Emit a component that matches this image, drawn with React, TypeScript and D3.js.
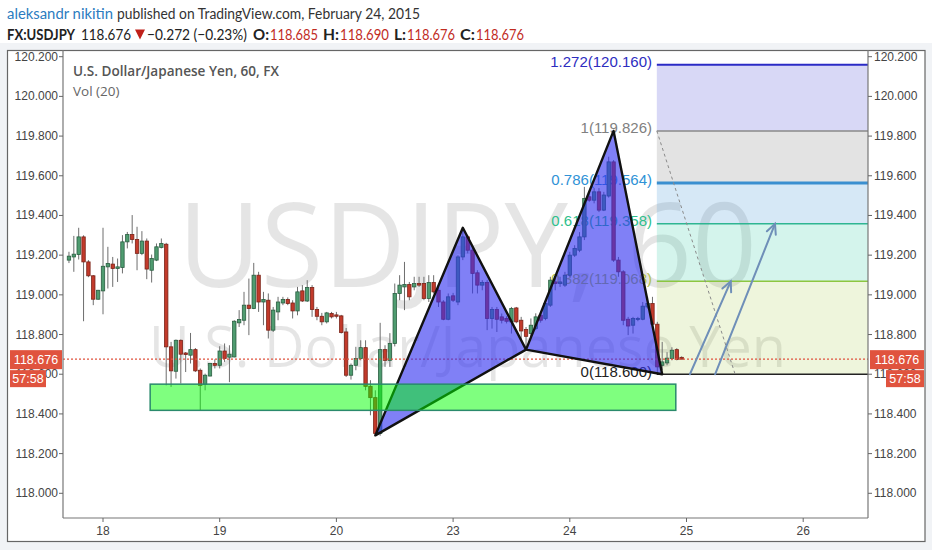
import React from 'react';
import * as d3 from 'd3';

const W = 932;
const H = 550;
const plot = { left: 63, right: 868, top: 50, bottom: 518 };

// x axis: hourly candle index, day labels
const dayTickIdx = [8, 32, 56, 80, 104, 128, 152];
const dayLabels = ['18', '19', '20', '23', '24', '25', '26'];
const priceTicks = [118.0, 118.2, 118.4, 118.6, 118.8, 119.0, 119.2, 119.4, 119.6, 119.8, 120.0, 120.2];

// hourly OHLC candles (index 1..127)
const candles: [number, number, number, number][] = [
  [119.175, 119.217, 119.160, 119.195],
  [119.191, 119.297, 119.116, 119.205],
  [119.203, 119.338, 119.178, 119.292],
  [119.292, 119.300, 118.867, 119.166],
  [119.166, 119.175, 119.089, 119.096],
  [119.096, 119.100, 118.948, 118.978],
  [118.978, 119.025, 118.975, 119.023],
  [119.020, 119.338, 118.902, 119.144],
  [119.141, 119.242, 119.032, 119.158],
  [119.155, 119.191, 119.040, 119.133],
  [119.133, 119.183, 119.065, 119.141],
  [119.138, 119.301, 119.108, 119.267],
  [119.267, 119.317, 119.234, 119.304],
  [119.304, 119.402, 119.259, 119.279],
  [119.279, 119.343, 119.124, 119.209],
  [119.209, 119.321, 119.200, 119.271],
  [119.271, 119.284, 119.079, 119.130],
  [119.124, 119.203, 119.062, 119.183],
  [119.175, 119.259, 119.170, 119.242],
  [119.239, 119.284, 119.234, 119.259],
  [119.255, 119.262, 118.544, 118.738],
  [118.738, 118.763, 118.536, 118.617],
  [118.615, 118.775, 118.578, 118.771],
  [118.771, 118.775, 118.553, 118.701],
  [118.707, 118.712, 118.611, 118.699],
  [118.696, 118.808, 118.654, 118.724],
  [118.724, 118.732, 118.611, 118.617],
  [118.620, 118.629, 118.418, 118.544],
  [118.549, 118.603, 118.519, 118.595],
  [118.591, 118.656, 118.589, 118.654],
  [118.654, 118.675, 118.629, 118.645],
  [118.645, 118.741, 118.629, 118.717],
  [118.717, 118.755, 118.662, 118.679],
  [118.686, 118.746, 118.560, 118.701],
  [118.687, 118.872, 118.685, 118.867],
  [118.859, 118.923, 118.838, 118.876],
  [118.872, 119.015, 118.847, 118.948],
  [118.948, 119.082, 118.797, 118.931],
  [118.931, 119.161, 118.928, 119.099],
  [119.099, 119.116, 118.914, 118.964],
  [118.964, 119.015, 118.847, 118.977],
  [118.973, 119.007, 118.780, 118.822],
  [118.822, 118.939, 118.813, 118.923],
  [118.914, 118.990, 118.872, 118.964],
  [118.959, 118.990, 118.948, 118.977],
  [118.977, 118.987, 118.948, 118.956],
  [118.959, 118.973, 118.881, 118.919],
  [118.919, 119.040, 118.897, 119.015],
  [119.020, 119.049, 118.964, 118.969],
  [118.969, 119.074, 118.964, 119.037],
  [119.037, 119.049, 118.889, 118.926],
  [118.926, 118.939, 118.872, 118.892],
  [118.892, 118.909, 118.847, 118.864],
  [118.864, 118.914, 118.856, 118.909],
  [118.906, 118.914, 118.881, 118.889],
  [118.899, 118.914, 118.881, 118.892],
  [118.894, 118.899, 118.805, 118.810],
  [118.813, 118.833, 118.586, 118.595],
  [118.595, 118.654, 118.573, 118.645],
  [118.645, 118.738, 118.620, 118.679],
  [118.679, 118.771, 118.670, 118.734],
  [118.734, 118.771, 118.519, 118.539],
  [118.539, 118.570, 118.393, 118.482],
  [118.482, 118.519, 118.292, 118.301],
  [118.301, 118.859, 118.290, 118.724],
  [118.724, 118.746, 118.637, 118.670],
  [118.670, 118.807, 118.637, 118.755],
  [118.755, 119.057, 118.740, 119.007],
  [119.007, 119.099, 118.973, 119.049],
  [119.040, 119.166, 118.923, 119.052],
  [119.052, 119.065, 118.973, 118.990],
  [119.040, 119.091, 119.023, 119.057],
  [119.057, 119.091, 119.040, 119.049],
  [119.057, 119.091, 118.973, 118.982],
  [118.982, 119.099, 118.964, 119.062],
  [119.062, 119.099, 119.007, 119.015],
  [119.023, 119.040, 118.939, 118.964],
  [118.964, 118.973, 118.872, 118.877],
  [118.877, 119.007, 118.872, 118.990],
  [118.995, 119.010, 118.964, 118.973],
  [118.964, 119.200, 118.948, 119.191],
  [119.191, 119.335, 119.175, 119.292],
  [119.292, 119.301, 119.209, 119.225],
  [119.225, 119.242, 119.007, 119.108],
  [119.111, 119.124, 119.007, 119.049],
  [119.049, 119.074, 119.023, 119.062],
  [119.062, 119.074, 118.822, 118.881],
  [118.881, 118.939, 118.830, 118.926],
  [118.926, 118.939, 118.813, 118.877],
  [118.889, 118.906, 118.856, 118.872],
  [118.881, 118.892, 118.856, 118.867],
  [118.864, 118.939, 118.805, 118.931],
  [118.934, 118.939, 118.857, 118.864],
  [118.872, 118.889, 118.771, 118.818],
  [118.825, 118.838, 118.735, 118.791],
  [118.805, 118.881, 118.788, 118.847],
  [118.830, 118.907, 118.822, 118.889],
  [118.897, 118.907, 118.860, 118.872],
  [118.881, 118.973, 118.872, 118.956],
  [118.948, 119.091, 118.939, 119.074],
  [119.065, 119.091, 119.023, 119.057],
  [119.057, 119.091, 119.040, 119.065],
  [119.049, 119.116, 119.040, 119.099],
  [119.099, 119.217, 119.091, 119.200],
  [119.200, 119.250, 119.191, 119.234],
  [119.225, 119.316, 119.215, 119.292],
  [119.292, 119.544, 119.276, 119.486],
  [119.494, 119.519, 119.469, 119.477],
  [119.477, 119.538, 119.461, 119.519],
  [119.519, 119.538, 119.417, 119.427],
  [119.427, 119.519, 119.422, 119.503],
  [119.498, 119.696, 119.490, 119.670],
  [119.670, 119.679, 119.166, 119.175],
  [119.175, 119.191, 119.091, 119.116],
  [119.116, 119.124, 118.847, 118.872],
  [118.877, 118.889, 118.797, 118.843],
  [118.847, 118.889, 118.805, 118.881],
  [118.877, 118.889, 118.867, 118.881],
  [118.877, 118.964, 118.872, 118.943],
  [118.939, 118.990, 118.931, 118.956],
  [118.956, 118.990, 118.847, 118.852],
  [118.852, 118.864, 118.605, 118.637],
  [118.645, 118.763, 118.620, 118.662],
  [118.657, 118.711, 118.645, 118.681],
  [118.679, 118.736, 118.670, 118.721],
  [118.724, 118.731, 118.670, 118.674],
  [118.685, 118.690, 118.676, 118.676],
];

// butterfly pattern X, A, B, C, D
const patternIdx = [64, 82, 95, 113, 123];
const patternPrice = [118.292, 119.338, 118.724, 119.826, 118.600];

// fibonacci tool
const fibStartIdx = 121.9;
const fibRatios = ['1.272', '1', '0.786', '0.618', '0.382', '0'];
const fibPrices = [120.160, 119.826, 119.564, 119.358, 119.068, 118.600];
const fibLineColors = ['#2b2bc6', '#8a8a8a', '#3a8fd0', '#2fb592', '#8cc640', '#222222'];
const fibLabelColors = ['#2d2dbf', '#808080', '#2f92d6', '#2fbf8c', '#b2c24a', '#222222'];
const fibLineWidths = [2, 1.5, 3, 1.5, 1.5, 1.5];
const fibZoneFills = ['rgba(60,60,210,0.2)', 'rgba(128,128,128,0.22)', 'rgba(50,140,210,0.2)', 'rgba(40,200,160,0.2)', 'rgba(160,200,60,0.18)'];

// support zone
const zoneIdx = [17.7, 125.8];
const zonePrice = [118.55, 118.418];

// projection arrows
const arrowFromIdx = [128.7, 133.9];
const arrowToIdx = [137.1, 146.2];
const arrowFromPrice = [118.6, 118.6];
const arrowToPrice = [119.068, 119.358];

// dashed retracement line
const dashIdx = [121.9, 138];
const dashPrice = [119.826, 118.6];

const lastPrice = 118.676;
const countdown = '57:58';

// header pieces: [text, x, length, color, bold]
const header1: [string, number, number, string, boolean][] = [
  ['aleksandr nikitin', 7, 106, '#2b7cc0', false],
  ['published on TradingView.com, February 24, 2015', 117, 303, '#333333', false],
];
const header2: [string, number, number, string, boolean][] = [
  ['FX:USDJPY', 7, 68, '#222222', true],
  ['118.676', 81, 50, '#222222', false],
  ['−0.272 (−0.23%)', 147, 100, '#222222', false],
  ['O:', 253, 16, '#222222', true],
  ['118.685', 270, 48, '#c12c1f', false],
  ['H:', 323, 16, '#222222', true],
  ['118.690', 340, 49, '#c12c1f', false],
  ['L:', 394, 12, '#222222', true],
  ['118.676', 407, 48, '#c12c1f', false],
  ['C:', 460, 15, '#222222', true],
  ['118.676', 476, 48, '#c12c1f', false],
];

const x = d3.scaleLinear().domain([8, 128]).range([103, 686.5]);
const y = d3.scaleLinear().domain([118, 120.2]).range([493.3, 56.7]);

const GREEN = '#4f9c70';
const GREEN_S = '#2a5e41';
const RED = '#c23a2b';
const RED_S = '#7a2318';
const BOX = '#e0533e';

function arrowHead(x1: number, y1: number, x2: number, y2: number, len = 11, ang = 0.45) {
  const a = Math.atan2(y2 - y1, x2 - x1);
  const p1 = [x2 - len * Math.cos(a - ang), y2 - len * Math.sin(a - ang)];
  const p2 = [x2 - len * Math.cos(a + ang), y2 - len * Math.sin(a + ang)];
  return `M${p1[0]},${p1[1]}L${x2},${y2}L${p2[0]},${p2[1]}`;
}

export default function App() {
  const fx0 = x(fibStartIdx);
  const fx1 = plot.right;
  const tri1 = [0, 1, 2].map((k) => [x(patternIdx[k]), y(patternPrice[k])] as [number, number]);
  const tri2 = [2, 3, 4].map((k) => [x(patternIdx[k]), y(patternPrice[k])] as [number, number]);
  const poly = (pts: [number, number][]) => 'M' + pts.map((p) => p.join(',')).join('L') + 'Z';
  const yLast = y(lastPrice);
  const axisFont = '"Liberation Sans", Arial, sans-serif';
  const headFont = "Lato, 'Open Sans', sans-serif";

  return (
    <svg width={W} height={H} style={{ position: 'absolute', left: 0, top: 0 }} xmlns="http://www.w3.org/2000/svg">
      <defs>
        <clipPath id="plotClip">
          <rect x={plot.left} y={plot.top} width={plot.right - plot.left} height={plot.bottom - plot.top} />
        </clipPath>
      </defs>
      <rect x={0} y={0} width={W} height={H} fill="#f1f3f6" />
      <rect x={0} y={0} width={W} height={43} fill="#ffffff" />

      {/* header */}
      {header1.map(([t, hx, len, col, b], i) => (
        <text key={'h1' + i} x={hx} y={19} fontFamily={headFont} fontSize={14.5} fill={col} fontWeight={b ? 'bold' : 'normal'} textLength={len} lengthAdjust="spacingAndGlyphs">{t}</text>
      ))}
      {header2.map(([t, hx, len, col, b], i) => (
        <text key={'h2' + i} x={hx} y={39.5} fontFamily={headFont} fontSize={14.5} fill={col} fontWeight={b ? 'bold' : 'normal'} textLength={len} lengthAdjust="spacingAndGlyphs">{t}</text>
      ))}
      <path d="M135,29.5L145,29.5L140,39.5Z" fill="#c0201a" />

      {/* frame */}
      <rect x={7.5} y={50.5} width={917.5} height={491} fill="#fff" stroke="#666" strokeWidth={1.2} />

      <g clipPath="url(#plotClip)">
        {/* watermark */}
        <text x={178} y={287} fontFamily="'Open Sans', Arial, sans-serif" fontSize={118} fill="rgba(0,0,0,0.1)" textLength={579} lengthAdjust="spacingAndGlyphs">USDJPY, 60</text>
        <text x={149} y={367} fontFamily="'Open Sans', Arial, sans-serif" fontSize={57} fill="rgba(0,0,0,0.1)" textLength={637} lengthAdjust="spacingAndGlyphs">U.S. Dollar/Japanese Yen</text>

        {/* fib zones */}
        {fibZoneFills.map((f, i) => (
          <rect key={'fz' + i} x={fx0} y={y(fibPrices[i])} width={fx1 - fx0} height={y(fibPrices[i + 1]) - y(fibPrices[i])} fill={f} />
        ))}
        {fibPrices.map((p, i) => (
          <line key={'fl' + i} x1={fx0} x2={fx1} y1={y(p)} y2={y(p)} stroke={fibLineColors[i]} strokeWidth={fibLineWidths[i]} />
        ))}
        {fibPrices.map((p, i) => (
          <text key={'ft' + i} x={652} y={y(p) + 2.5} textAnchor="end" fontFamily={axisFont} fontSize={15} fill={fibLabelColors[i]}>
            {`${fibRatios[i]}(${p.toFixed(3)})`}
          </text>
        ))}

        {/* dashed retracement line */}
        <line x1={x(dashIdx[0])} y1={y(dashPrice[0])} x2={x(dashIdx[1])} y2={y(dashPrice[1])} stroke="#8a8a8a" strokeWidth={1} strokeDasharray="3,3" />

        {/* candles */}
        {candles.map((c, i) => {
          const [o, h, l, cl] = c;
          const cx = x(i + 1);
          const up = cl >= o;
          const top = y(Math.max(o, cl));
          const bot = y(Math.min(o, cl));
          return (
            <g key={'c' + i}>
              <line x1={cx} x2={cx} y1={y(h)} y2={y(l)} stroke="#6e6e6e" strokeWidth={1} />
              <rect x={cx - 1.7} y={top} width={3.4} height={Math.max(1, bot - top)} fill={up ? GREEN : RED} stroke={up ? GREEN_S : RED_S} strokeWidth={0.8} />
            </g>
          );
        })}

        {/* current price dotted line */}
        <line x1={plot.left} x2={plot.right} y1={yLast} y2={yLast} stroke={BOX} strokeWidth={1.3} strokeDasharray="2,2" />

        {/* butterfly triangles */}
        <path d={poly(tri1)} fill="rgba(50,50,240,0.62)" stroke="#111" strokeWidth={2.4} strokeLinejoin="round" />
        <path d={poly(tri2)} fill="rgba(50,50,240,0.62)" stroke="#111" strokeWidth={2.4} strokeLinejoin="round" />

        {/* support zone */}
        <rect x={x(zoneIdx[0])} y={y(zonePrice[0])} width={x(zoneIdx[1]) - x(zoneIdx[0])} height={y(zonePrice[1]) - y(zonePrice[0])} fill="rgba(0,255,0,0.5)" stroke="#2a8a6c" strokeWidth={1.5} />

        {/* arrows */}
        {arrowFromIdx.map((a, i) => {
          const x1 = x(a), y1 = y(arrowFromPrice[i]), x2 = x(arrowToIdx[i]), y2 = y(arrowToPrice[i]);
          return (
            <g key={'ar' + i} stroke="#6f8fb8" strokeWidth={2} fill="none" strokeLinecap="round">
              <line x1={x1} y1={y1} x2={x2} y2={y2} />
              <path d={arrowHead(x1, y1, x2, y2)} />
            </g>
          );
        })}

        {/* title */}
        <text x={73} y={76} fontFamily="'Open Sans', sans-serif" fontWeight={600} fontSize={14} fill="#555" textLength={206} lengthAdjust="spacingAndGlyphs">U.S. Dollar/Japanese Yen, 60, FX</text>
        <text x={73} y={96} fontFamily="'Open Sans', sans-serif" fontSize={13.5} fill="#666">Vol (20)</text>
      </g>

      {/* axes lines */}
      <line x1={plot.left} x2={plot.left} y1={plot.top} y2={plot.bottom} stroke="#777" strokeWidth={1.2} />
      <line x1={plot.right} x2={plot.right} y1={plot.top} y2={plot.bottom} stroke="#777" strokeWidth={1.2} />
      <line x1={plot.left} x2={plot.right} y1={plot.bottom} y2={plot.bottom} stroke="#777" strokeWidth={1.2} />

      {/* price ticks */}
      {priceTicks.map((p) => (
        <g key={'pt' + p}>
          <line x1={plot.left - 4} x2={plot.left} y1={y(p)} y2={y(p)} stroke="#666" />
          <text x={plot.left - 5} y={y(p) + 4} textAnchor="end" fontFamily={axisFont} fontSize={12} fill="#444">{p.toFixed(3)}</text>
          <line x1={plot.right} x2={plot.right + 4} y1={y(p)} y2={y(p)} stroke="#666" />
          <text x={plot.right + 6} y={y(p) + 4} fontFamily={axisFont} fontSize={12} fill="#444">{p.toFixed(3)}</text>
        </g>
      ))}

      {/* day ticks */}
      {dayTickIdx.map((d, i) => (
        <g key={'dt' + i}>
          <line x1={x(d)} x2={x(d)} y1={plot.bottom} y2={plot.bottom + 4} stroke="#666" />
          <text x={x(d)} y={535} textAnchor="middle" fontFamily={axisFont} fontSize={12} fill="#444">{dayLabels[i]}</text>
        </g>
      ))}

      {/* last price boxes */}
      <rect x={10} y={yLast - 9} width={52} height={19} fill={BOX} />
      <text x={36} y={yLast + 5} textAnchor="middle" fontFamily={axisFont} fontSize={12.5} fill="#fff">118.676</text>
      <rect x={10} y={yLast + 11} width={36} height={17} fill={BOX} />
      <text x={28} y={yLast + 24} textAnchor="middle" fontFamily={axisFont} fontSize={12.5} fill="#fff">{countdown}</text>

      <rect x={870} y={yLast - 9} width={54} height={19} fill={BOX} />
      <text x={897} y={yLast + 5} textAnchor="middle" fontFamily={axisFont} fontSize={12.5} fill="#fff">118.676</text>
      <rect x={886} y={yLast + 11} width={38} height={17} fill={BOX} />
      <text x={905} y={yLast + 24} textAnchor="middle" fontFamily={axisFont} fontSize={12.5} fill="#fff">{countdown}</text>
    </svg>
  );
}
